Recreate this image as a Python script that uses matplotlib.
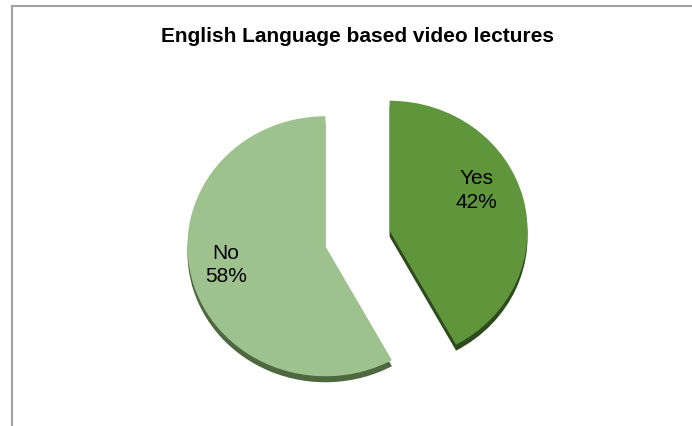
import matplotlib
matplotlib.use('Agg')
import matplotlib.pyplot as plt
import numpy as np

# English-language video lecture survey
labels = ['Yes', 'No']
shares = [42, 58]
top_colors = ['#5F963C', '#9EC28E']
side_colors = ['#2F4A1C', '#4E6840']

plt.rcParams['font.family'] = ['Liberation Sans', 'DejaVu Sans']

W, H = 692, 426
fig = plt.figure(figsize=(W / 100, H / 100), dpi=100)
ax = fig.add_axes([0, 0, 1, 1])

# pixel geometry of the tilted pie
cx, cy = 357.5, 238.5
rx, ry = 138.0, 130.0
depth = 6.0
explode = [0.24, 0.24]

# side wall first, shifted down, then the top face
ax.pie(shares, colors=side_colors, startangle=90, counterclock=False,
       explode=explode, center=(0, -depth / ry),
       wedgeprops=dict(linewidth=0))
wedges, _ = ax.pie(shares, colors=top_colors, startangle=90, counterclock=False,
                   explode=explode, wedgeprops=dict(linewidth=0))

ax.set_aspect('auto')
ax.set_xlim(-cx / rx, (W - cx) / rx)
ax.set_ylim(-(H - cy) / ry, cy / ry)
ax.axis('off')

# data labels inside each wedge
label_r = [0.70, 0.735]
label_tilt = [12, -3]
for w, lab, val, r, tilt in zip(wedges, labels, shares, label_r, label_tilt):
    mid = np.deg2rad((w.theta1 + w.theta2) / 2 + tilt)
    x0, y0 = w.center
    ax.text(x0 + r * np.cos(mid), y0 + r * np.sin(mid), f'{lab}\n{val}%',
            ha='center', va='center', fontsize=15, linespacing=1.3,
            color='black')

fig.text(cx / W, 1 - 37 / H, 'English Language based video lectures',
         ha='center', va='center', fontsize=15, fontweight='bold')

# chart area border (left and top edges)
border = dict(color='#A0A0A0', linewidth=1.5, transform=fig.transFigure)
fig.add_artist(plt.Line2D([12 / W, 12 / W], [0, 1 - 6 / H], **border))
fig.add_artist(plt.Line2D([12 / W, 1], [1 - 6 / H, 1 - 6 / H], **border))

fig.savefig('out.png', dpi=100)
